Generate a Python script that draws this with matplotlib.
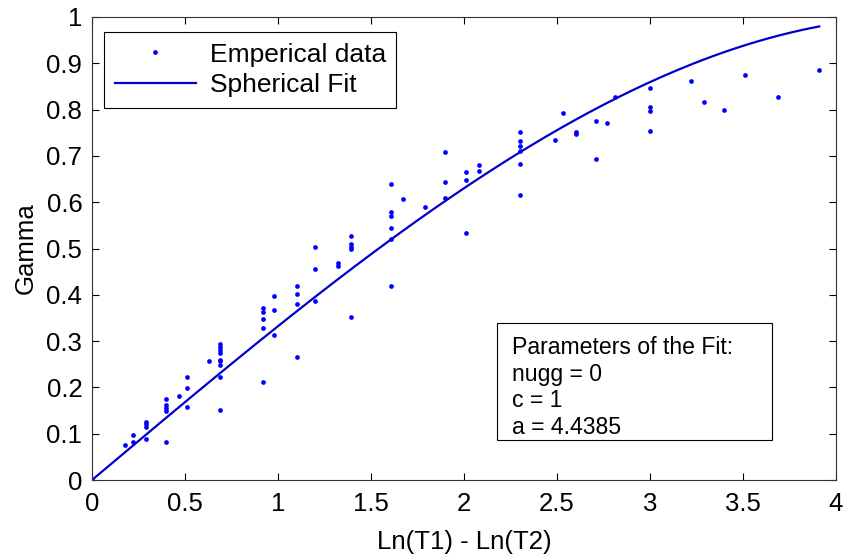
import numpy as np
import matplotlib.pyplot as plt
from matplotlib.patches import Rectangle

plt.rcParams['font.family'] = ['Liberation Sans', 'DejaVu Sans']

lag = [0, 0.18, 0.22, 0.22, 0.29, 0.29, 0.29, 0.29,
       0.40, 0.40, 0.40, 0.40, 0.40, 0.47, 0.51, 0.51, 0.51,
       0.63, 0.69, 0.69, 0.69, 0.69, 0.69, 0.69, 0.69, 0.69, 0.69,
       0.92, 0.92, 0.92, 0.92, 0.92, 0.98, 0.98, 0.98,
       1.10, 1.10, 1.10, 1.10, 1.20, 1.20, 1.20,
       1.32, 1.32, 1.39, 1.39, 1.39, 1.39, 1.39,
       1.61, 1.61, 1.61, 1.61, 1.61, 1.61, 1.67, 1.79,
       1.90, 1.90, 1.90, 2.01, 2.01, 2.01, 2.08, 2.08,
       2.30, 2.30, 2.30, 2.30, 2.30, 2.30,
       2.49, 2.53, 2.60, 2.60, 2.71, 2.71, 2.77, 2.81,
       3.00, 3.00, 3.00, 3.00, 3.22, 3.29, 3.40, 3.51, 3.69, 3.91]
gamma = [0, 0.076, 0.083, 0.097, 0.088, 0.115, 0.120, 0.126,
         0.083, 0.148, 0.155, 0.163, 0.176, 0.181, 0.158, 0.198, 0.222,
         0.258, 0.151, 0.222, 0.248, 0.256, 0.260, 0.274, 0.281, 0.288, 0.294,
         0.212, 0.328, 0.348, 0.362, 0.371, 0.313, 0.367, 0.398,
         0.266, 0.381, 0.402, 0.420, 0.386, 0.456, 0.503,
         0.462, 0.469, 0.352, 0.498, 0.504, 0.509, 0.528,
         0.418, 0.521, 0.544, 0.571, 0.579, 0.640, 0.607, 0.590,
         0.708, 0.644, 0.608, 0.533, 0.647, 0.665, 0.667, 0.680,
         0.616, 0.683, 0.711, 0.722, 0.733, 0.751,
         0.735, 0.793, 0.752, 0.748, 0.775, 0.693, 0.770, 0.828,
         0.846, 0.805, 0.796, 0.754, 0.862, 0.817, 0.800, 0.874, 0.828, 0.885]

# spherical model parameters
nugg = 0
c = 1
a = 4.4385

h = np.linspace(0, 3.91, 200)
fit = nugg + c * (1.5 * h / a - 0.5 * (h / a) ** 3)

W, H = 847, 557
fig = plt.figure(figsize=(W / 100, H / 100), dpi=100)
ax = fig.add_axes([92/W, 1 - 480/H, (836 - 92)/W, (480 - 17)/H])

ax.plot(lag, gamma, 'o', color='#0000ff', markersize=3.4, markeredgewidth=0,
        label='Emperical data')
ax.plot(h, fit, color='#0000cc', linewidth=1.6, label='Spherical Fit')

ax.set_xlim(0, 4)
ax.set_ylim(0, 1)
ax.set_xticks(np.arange(0, 4.01, 0.5))
ax.set_xticklabels(['0', '0.5', '1', '1.5', '2', '2.5', '3', '3.5', '4'])
ax.set_yticks(np.arange(0, 1.01, 0.1))
ax.set_yticklabels(['0', '0.1', '0.2', '0.3', '0.4', '0.5', '0.6', '0.7', '0.8', '0.9', '1'])
ax.tick_params(direction='in', top=True, right=True, length=5, width=0.8,
               labelsize=18.5, pad=7)
ax.tick_params(axis='x', pad=8.5)
for s in ax.spines.values():
    s.set_linewidth(0.8)
    s.set_color('#333333')

ax.set_xlabel('Ln(T1) - Ln(T2)', fontsize=18.5, labelpad=10)
ax.set_ylabel('Gamma', fontsize=18.5, labelpad=6)

leg = ax.legend(loc='upper left', bbox_to_anchor=(104/W, 1 - 32/H),
                bbox_transform=fig.transFigure,
                fontsize=19, fancybox=False, edgecolor='black',
                framealpha=1, borderpad=0.4, handlelength=3.1,
                labelspacing=0.25, handletextpad=0.5, borderaxespad=0)
leg.get_frame().set_linewidth(0.8)
leg.legend_handles[0].set_markersize(3.4)

# parameter box
fig.patches.append(Rectangle((497/W, 1 - 440/H), 275/W, 117/H,
                             transform=fig.transFigure, facecolor='white',
                             edgecolor='black', linewidth=0.8, zorder=5))
fig.text(512/W, 1 - 336/H,
         'Parameters of the Fit:\nnugg = %d\nc = %d\na = %.4f' % (nugg, c, a),
         fontsize=16.6, va='top', ha='left', linespacing=1.2, zorder=6)

plt.savefig('out.png', dpi=100)
